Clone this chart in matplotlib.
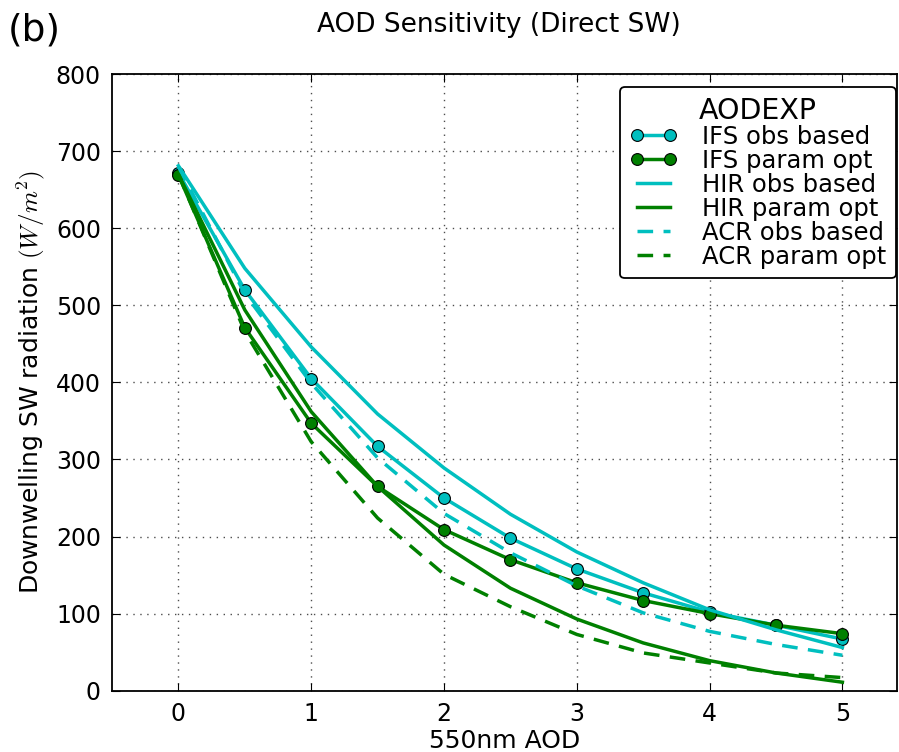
import matplotlib
matplotlib.use('Agg')
import matplotlib.pyplot as plt

# AOD values (x) and downwelling SW for each experiment
aod = [0, 0.5, 1, 1.5, 2, 2.5, 3, 3.5, 4, 4.5, 5]
ifs_obs = [672, 520, 405, 317, 250, 198, 158, 127, 102, 85, 67]
ifs_opt = [669, 471, 347, 265, 209, 170, 140, 117, 100, 85, 74]
hir_obs = [681, 548, 446, 359, 289, 229, 180, 140, 105, 79, 56]
hir_opt = [670, 494, 362, 265, 189, 133, 93, 62, 39, 23, 11]
acr_obs = [680, 515, 399, 302, 230, 179, 136, 101, 77, 60, 46]
acr_opt = [670, 466, 323, 224, 151, 109, 73, 49, 36, 23, 17]

cyan = (0.0, 0.75, 0.75)
green = (0.0, 0.5, 0.0)

plt.rcParams['mathtext.fontset'] = 'cm'


def main():
    fig = plt.figure(figsize=(8.99, 7.52), dpi=100)
    ax = fig.add_axes([0.1246, 0.0815, 0.873, 0.8200])

    ax.plot(aod, ifs_obs, '-o', color=cyan, lw=2.5, ms=8.5, mec='k', mew=0.8, label='IFS obs based')
    ax.plot(aod, ifs_opt, '-o', color=green, lw=2.5, ms=8.5, mec='k', mew=0.8, label='IFS param opt')
    ax.plot(aod, hir_obs, '-', color=cyan, lw=2.5, label='HIR obs based')
    ax.plot(aod, hir_opt, '-', color=green, lw=2.5, label='HIR param opt')
    ax.plot(aod, acr_obs, '--', color=cyan, lw=2.5, dashes=(4.5, 3), label='ACR obs based')
    ax.plot(aod, acr_opt, '--', color=green, lw=2.5, dashes=(4.5, 3), label='ACR param opt')

    ax.set_xlim(-0.5, 5.41)
    ax.set_ylim(0, 800)
    ax.set_xticks(range(0, 6))
    ax.set_yticks(range(0, 801, 100))
    ax.tick_params(direction='in', length=6, labelsize=17, top=True, right=True, pad=8)
    ax.grid(True, linestyle=(0, (1, 4)), color='0.3', lw=1)
    for s in ax.spines.values():
        s.set_linewidth(1.3)

    ax.set_xlabel('550nm AOD', fontsize=18, labelpad=2)
    ax.set_ylabel('Downwelling SW radiation $(W/m^2)$', fontsize=18, labelpad=6)

    leg = ax.legend(loc='upper right', bbox_to_anchor=(0.9985, 0.979), borderaxespad=0,
                    title='AODEXP', fontsize=17.5, numpoints=2,
                    handlelength=1.95, handletextpad=1.0, labelspacing=0.0,
                    borderpad=0.4, fancybox=True, framealpha=1, edgecolor='k')
    leg.get_title().set_fontsize(20.5)
    leg.get_frame().set_linewidth(1.3)

    fig.text(0.555, 0.967, 'AOD Sensitivity (Direct SW)', ha='center', va='center', fontsize=19)
    fig.text(0.009, 0.96, '(b)', ha='left', va='center', fontsize=27)

    fig.savefig('out.png', dpi=100)


main()
